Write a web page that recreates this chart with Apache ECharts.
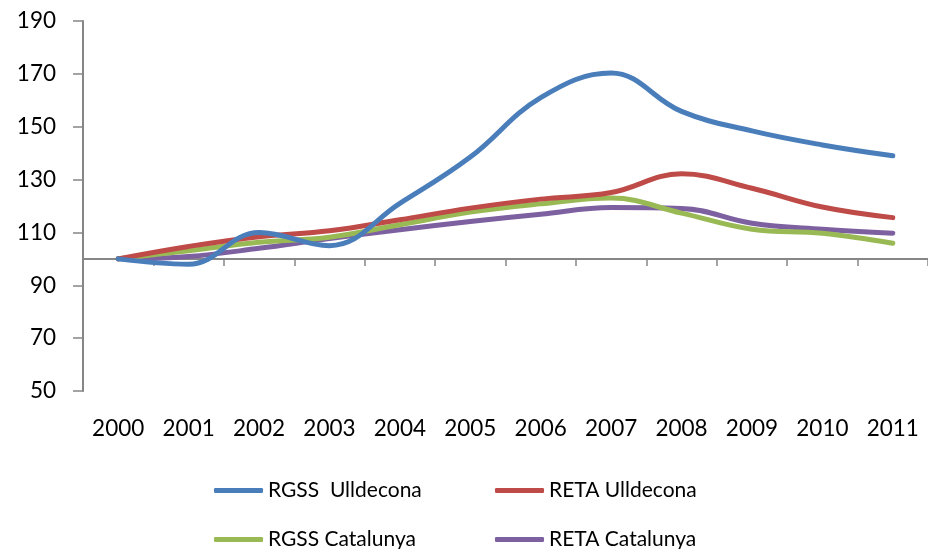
<!DOCTYPE html>
<html>
<head>
<meta charset="utf-8">
<script src="https://cdn.jsdelivr.net/npm/echarts@6/dist/echarts.min.js"></script>
<style>
html,body{margin:0;padding:0;background:#fff;}
#chart{width:928px;height:549px;}
</style>
</head>
<body>
<div id="chart"></div>
<script>
const categories = ['2000','2001','2002','2003','2004','2005','2006','2007','2008','2009','2010','2011'];
const rgssUlldecona = [100, 98, 110, 105, 121, 138.5, 161, 170.3, 155.8, 148.4, 143.1, 139];
const retaUlldecona = [100, 104.7, 108.4, 110.6, 114.8, 119.2, 122.6, 125.1, 132.2, 126.7, 119.6, 115.6];
const rgssCatalunya = [100, 103.1, 106.3, 108.2, 112.9, 117.7, 120.8, 123, 117.3, 111.2, 109.7, 105.9];
const retaCatalunya = [100, 100.9, 104, 107.7, 111, 114.1, 116.9, 119.4, 119.1, 113.5, 111.2, 109.7];
const seriesNames = ['RGSS  Ulldecona', 'RETA Ulldecona', 'RGSS Catalunya', 'RETA Catalunya'];
const seriesColors = ['#4A7EBB', '#BE4B48', '#98B954', '#7D60A0'];
const yTicks = {min: 50, max: 190, interval: 20};

const font = 'Lato';
const axisGray = '#868686';
const seriesData = [rgssUlldecona, retaUlldecona, rgssCatalunya, retaCatalunya];

const chart = echarts.init(document.getElementById('chart'), null, {renderer: 'canvas'});

function legendAt(name, left, top) {
  return {
    data: [name],
    left: left,
    top: top,
    icon: 'roundRect',
    itemWidth: 49,
    itemHeight: 5,
    padding: 0,
    textStyle: {fontFamily: font, fontSize: 21, color: '#000'}
  };
}

const option = {
  animation: false,
  backgroundColor: '#fff',
  grid: {left: 83, top: 21, right: -3, bottom: 158, containLabel: false},
  legend: [
    legendAt(seriesNames[0], 214, 480),
    legendAt(seriesNames[1], 495, 480),
    legendAt(seriesNames[2], 214, 529),
    legendAt(seriesNames[3], 495, 529)
  ],
  xAxis: [
    {
      type: 'category',
      data: categories,
      position: 'bottom',
      axisLine: {show: false},
      axisTick: {show: false},
      axisLabel: {fontFamily: font, fontSize: 22.5, color: '#000', margin: 26},
      splitLine: {show: false}
    },
    {
      type: 'category',
      data: categories,
      position: 'bottom',
      offset: -132,
      axisLine: {show: true, lineStyle: {color: axisGray, width: 2}},
      axisTick: {show: true, length: 7, lineStyle: {color: axisGray, width: 1.5}},
      axisLabel: {show: false},
      splitLine: {show: false}
    }
  ],
  yAxis: {
    type: 'value',
    min: yTicks.min,
    max: yTicks.max,
    interval: yTicks.interval,
    axisLine: {show: true, lineStyle: {color: axisGray, width: 2}},
    axisTick: {show: true, length: 10, lineStyle: {color: axisGray, width: 1.5}},
    axisLabel: {fontFamily: font, fontSize: 22.5, color: '#000', margin: 27},
    splitLine: {show: false}
  },
  series: seriesNames.map((n, i) => ({
    name: n,
    type: 'line',
    xAxisIndex: 0,
    data: seriesData[i],
    smooth: 0.4,
    symbol: 'none',
    showSymbol: false,
    z: 10 - i,
    itemStyle: {color: seriesColors[i]},
    lineStyle: {color: seriesColors[i], width: 5, cap: 'round', join: 'round'}
  }))
};
chart.setOption(option);
</script>
</body>
</html>
